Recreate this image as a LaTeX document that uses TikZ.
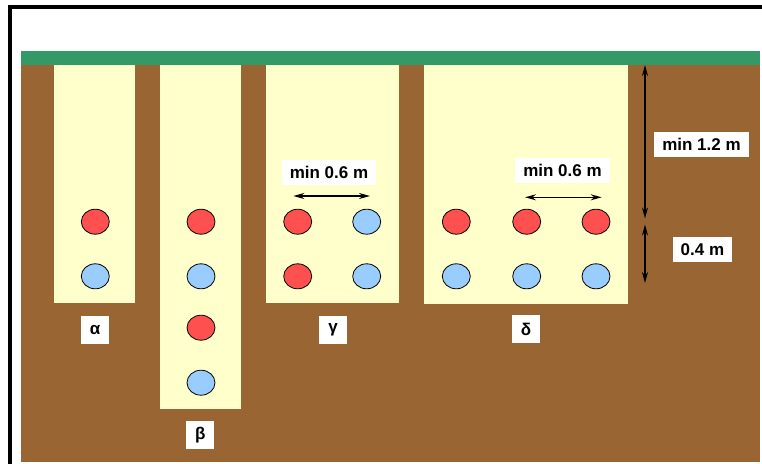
\documentclass[tikz,border=0pt]{standalone}
\usepackage{fontspec}
\setmainfont{Liberation Sans}
\usetikzlibrary{arrows.meta,shapes.geometric}
\tikzset{%
  cable/.style={ellipse,minimum width=28pt,minimum height=25pt,inner sep=0pt,draw,line width=0.8pt,fill=#1},
  cable/.default=hot,
  tag/.style={fill=white,font=\bfseries\fontsize{17}{20}\selectfont,inner xsep=8pt,inner ysep=0pt,minimum height=25pt},
  greek/.style={tag,inner xsep=0pt,minimum width=28pt,minimum height=28pt},
  dim/.style={{Stealth[length=11pt,width=6pt]}-{Stealth[length=11pt,width=6pt]},line width=1.5pt}
}
\definecolor{grass}{RGB}{51,153,102}
\definecolor{soil}{RGB}{153,102,51}
\definecolor{sand}{RGB}{255,255,204}
\definecolor{hot}{RGB}{255,80,80}
\definecolor{cold}{RGB}{153,204,255}

\begin{document}
\begin{tikzpicture}[x=1pt,y=-1pt]
  \useasboundingbox (0,0) rectangle (762,463);
  \draw[line width=4pt] (10,470) -- (10,7) -- (770,7);
  \fill[grass] (20.7,51) rectangle (760,65);
  \fill[soil] (20.7,65) rectangle (760,462);
  % trenches
  \fill[sand] (54,65) rectangle (135,303);
  \fill[sand] (160,65) rectangle (240.7,409);
  \fill[sand] (265.7,65) rectangle (399.3,303);
  \fill[sand] (424.3,65) rectangle (628.3,304);
  %%%
  \node[cable=hot] (a1) at (95.3,221.7) {};
  \node[cable=cold] (a2) at (95.3,276.3) {};
  \node[cable=hot] (b1) at (201,221.7) {};
  \node[cable=cold] (b2) at (201,276.3) {};
  \node[cable=hot] (b3) at (201,327.7) {};
  \node[cable=cold] (b4) at (201,382.7) {};
  \node[cable=hot] (g1) at (297.7,221.7) {};
  \node[cable=cold] (g2) at (366.7,221.7) {};
  \node[cable=hot] (g3) at (297.7,276.3) {};
  \node[cable=cold] (g4) at (366.7,276.3) {};
  \node[cable=hot] (d1) at (456.3,221.7) {};
  \node[cable=hot] (d2) at (526.7,221.7) {};
  \node[cable=hot] (d3) at (596,221.7) {};
  \node[cable=cold] (d4) at (456.3,276.3) {};
  \node[cable=cold] (d5) at (526.7,276.3) {};
  \node[cable=cold] (d6) at (596,276.3) {};
  %%%
  \node[greek] (la) at (95,330) {α};
  \node[greek] (lb) at (200.4,435) {β};
  \node[greek] (lg) at (333,330) {γ};
  \node[greek] (ld) at (526,329) {δ};
  %%%
  \coordinate (s0) at (293.3,196);
  \coordinate (s1) at (370,196);
  \coordinate (s2) at (525,197.3);
  \coordinate (s3) at (601.7,197.3);
  \coordinate (h0) at (645,65);
  \coordinate (h1) at (645,218.5);
  \coordinate (h2) at (645,224.5);
  \coordinate (h3) at (645,283);
  \draw[dim] (s0)--(s1);
  \draw[dim] (s2)--(s3);
  \draw[dim] (h0)--(h1);
  \draw[dim] (h2)--(h3);
  \node[tag] (t0) at (329,172) {min 0.6 m};
  \node[tag] (t1) at (562.5,170.7) {min 0.6 m};
  \node[tag] (t2) at (701.5,144) {min 1.2 m};
  \node[tag] (t3) at (702.4,249.4) {0.4 m};
\end{tikzpicture}
\end{document}
